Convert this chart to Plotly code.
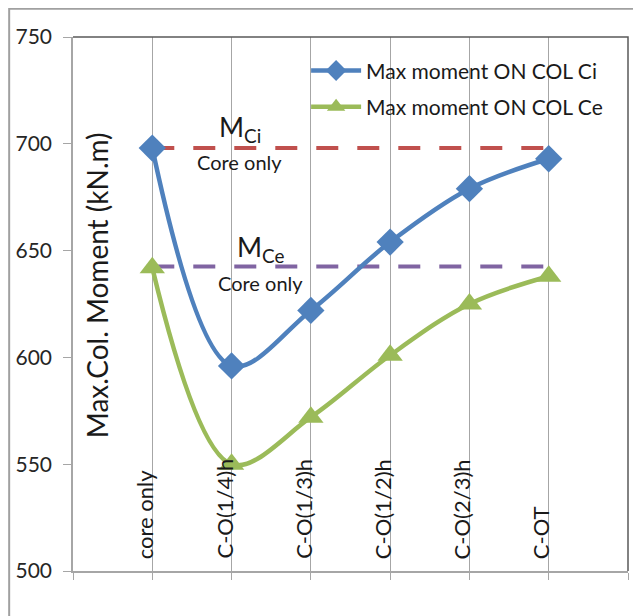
import plotly.graph_objects as go

categories = ["core only", "C-O(1/4)h", "C-O(1/3)h", "C-O(1/2)h", "C-O(2/3)h", "C-OT"]
ci_values = [698, 596, 622, 654, 679, 693]
ce_values = [642, 550, 572, 601, 625, 638]
m_ci_core = 698
m_ce_core = 642.5
y_ticks = [500, 550, 600, 650, 700, 750]
series_names = ["Max moment ON COL Ci", "Max moment ON COL Ce"]

FONT = "Lato"
BLUE = "#4F81BD"
GREEN = "#9BBB59"
RED = "#C0504D"
PURPLE = "#8064A2"
GRID = "#A6A6A6"
TXT = "#1a1a1a"

x = list(range(len(categories)))

fig = go.Figure()
fig.add_trace(go.Scatter(
    x=x, y=ci_values, name=series_names[0], mode="lines+markers",
    line=dict(color=BLUE, width=4.5, shape="spline", smoothing=1.0),
    marker=dict(symbol="diamond", size=21, color=BLUE),
    legendgroup="a",
))
fig.add_trace(go.Scatter(
    x=x, y=ce_values, name=series_names[1], mode="lines+markers",
    line=dict(color=GREEN, width=4.5, shape="spline", smoothing=1.0),
    marker=dict(symbol="triangle-up", size=22, color=GREEN),
    legendgroup="b",
))

# reference dashed lines
for val, col in [(m_ci_core, RED), (m_ce_core, PURPLE)]:
    fig.add_shape(type="line", xref="x", yref="y", x0=x[0], x1=x[-1], y0=val, y1=val,
                  line=dict(color=col, width=4, dash="22px,19px"), layer="between")

# top/right plot border
fig.add_shape(type="path", xref="paper", yref="paper", path="M 0 1 L 1 1 L 1 0",
              line=dict(color="#595959", width=1.5))
# outer chart frame
fig.add_shape(type="rect", xref="paper", yref="paper", x0=-0.115, x1=1.0144, y0=-0.12, y1=1.053,
              line=dict(color="#A0A0A0", width=2))

ann = [
    dict(text="M<sub>Ci</sub>", x=1.1, y=707, size=27),
    dict(text="Core only", x=1.1, y=691.5, size=20),
    dict(text="M<sub>Ce</sub>", x=1.37, y=651, size=27),
    dict(text="Core only", x=1.37, y=635, size=20),
]
for a in ann:
    fig.add_annotation(xref="x", yref="y", showarrow=False, x=a["x"], y=a["y"], text=a["text"],
                       font=dict(family=FONT, size=a["size"], color=TXT))

# category labels drawn inside the plot area
for xi, cat in zip(x, categories):
    fig.add_annotation(xref="x", yref="y", x=xi, y=y_ticks[0], text=cat, textangle=-90,
                       showarrow=False, xanchor="center", yanchor="bottom",
                       xshift=-8, yshift=10,
                       font=dict(family=FONT, size=22, color=TXT))

fig.add_annotation(xref="paper", yref="paper", x=0.043, y=0.535, text="Max.Col. Moment (kN.m)",
                   textangle=-90, showarrow=False, xanchor="center", yanchor="middle",
                   font=dict(family=FONT, size=28, color=TXT))

fig.update_layout(
    width=641, height=616,
    margin=dict(l=65, r=21, t=29, b=53, autoexpand=False),
    paper_bgcolor="white", plot_bgcolor="white",
    font=dict(family=FONT, color=TXT),
    showlegend=True,
    legend=dict(x=0.42, y=0.975, xanchor="left", yanchor="top", bgcolor="rgba(0,0,0,0)",
                font=dict(family=FONT, size=21, color=TXT), tracegroupgap=6,
                itemwidth=50),
    xaxis=dict(
        range=[-1, 6], tickmode="array",
        tickvals=list(range(-1, len(categories) + 1)),
        ticktext=[""] * (len(categories) + 2),
        ticks="outside", ticklen=7, tickcolor=GRID,
        showgrid=True, gridcolor=GRID, gridwidth=1,
        showline=True, linecolor=GRID, linewidth=1.5, zeroline=False,
        automargin=False,
    ),
    yaxis=dict(
        range=[500, 750], tickmode="array", tickvals=y_ticks,
        ticks="outside", ticklen=8, tickcolor=GRID, ticklabelstandoff=7,
        showgrid=False, showline=True, linecolor=GRID, linewidth=1.5, zeroline=False,
        automargin=False,
        tickfont=dict(family=FONT, size=21, color="#262626"),
    ),
)

fig.write_html("out.html")
